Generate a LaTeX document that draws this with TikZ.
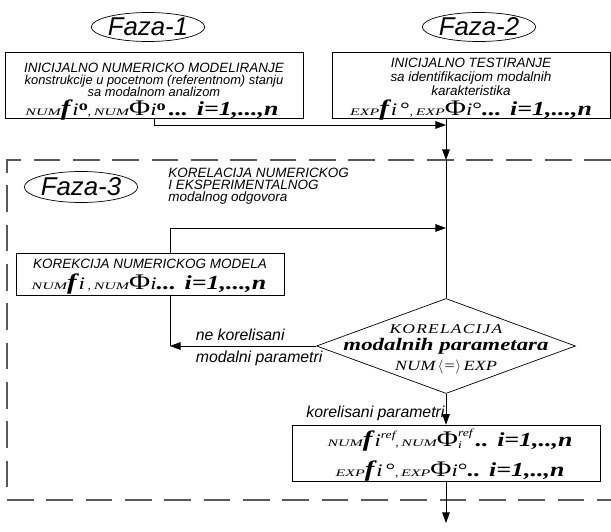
\documentclass[tikz,border=0pt]{standalone}
\usepackage{fontspec}
\setmainfont{Liberation Serif}
\newfontfamily\arialfont{Liberation Sans}
\newfontfamily\formfont[FakeStretch=1.3]{Liberation Serif}
\newfontfamily\tagfont[FakeStretch=1.6]{Liberation Serif}
\usetikzlibrary{arrows.meta, shapes.geometric}

% pieces of the modal formulas
\newcommand\tagtx[1]{{\tagfont\fontsize{8.5}{9}\selectfont\itshape #1}}
\newcommand\fsym{{\formfont\fontsize{19}{19}\selectfont\bfseries\itshape f}}
\newcommand\isym{{\formfont\fontsize{15}{15}\selectfont\itshape i}}
\newcommand\phisym{{\formfont\fontsize{19}{19}\selectfont Φ}}
\newcommand\rangetx[1]{{\formfont\fontsize{17}{17}\selectfont\bfseries\itshape #1}}
\newcommand\degb{\raisebox{0.8ex}{\formfont\fontsize{12}{12}\selectfont\bfseries o}}
\newcommand\degt{{\formfont\fontsize{16}{16}\selectfont °}}
\newcommand\refsup{{\formfont\fontsize{9}{9}\selectfont\itshape\raisebox{1.6ex}{ref}}}
\newcommand\refstack{{\formfont\fontsize{9}{9}\selectfont\itshape
  \rlap{\raisebox{2ex}{ref}}\raisebox{-0.6ex}{i}\phantom{re}}}

\begin{document}
\begin{tikzpicture}[x=0.03cm, y=-0.03cm, >={Triangle[length=9pt,width=6.5pt]}, line width=0.6pt,
  boxwh/.style 2 args={minimum width=#1*0.03cm, minimum height=#2*0.03cm},
  box/.style={draw, rectangle, inner sep=0pt},
  faza/.style={draw, ellipse, inner sep=0pt, font=\arialfont\itshape\fontsize{22}{22}\selectfont},
  txt/.style={font=\arialfont\itshape\fontsize{11.5}{12}\selectfont, inner sep=0pt, anchor=base},
  lbl/.style={txt, font=\arialfont\itshape\fontsize{13.5}{14}\selectfont},
  frm/.style={inner sep=0pt, anchor=base},
  okvir/.style={dash pattern=on 0.8cm off 0.38cm, black!65, line width=0.9pt}]

  \useasboundingbox (0,0) rectangle (611,532);

  % Faza-1 : numericki model
  \node[faza, boxwh={105}{29}] (faza1) at (148,27) {Faza-1};
  \node[box, boxwh={298}{66}] (modNum) at (154,85) {};
  \node[txt] (modNumA) at (154,72) {INICIJALNO NUMERICKO MODELIRANJE};
  \node[txt, font=\arialfont\itshape\fontsize{11}{11}\selectfont] (modNumB) at (154,84)
    {konstrukcije u pocetnom (referentnom) stanju};
  \node[txt, font=\arialfont\itshape\fontsize{11}{11}\selectfont] (modNumC) at (154,96)
    {sa modalnom analizom};
  \node[frm] (modNumF) at (152,115)
    {\tagtx{NUM}\fsym\,\isym\degb,\ \tagtx{NUM}\phisym\isym\degb\ \rangetx{... i=1,...,n}};

  % Faza-2 : testiranje
  \node[faza, boxwh={108}{29}] (faza2) at (479,27) {Faza-2};
  \node[box, boxwh={278}{66}] (modExp) at (471,85) {};
  \node[txt] (modExpA) at (471,67) {INICIJALNO TESTIRANJE};
  \node[txt] (modExpB) at (471,81) {sa identifikacijom modalnih};
  \node[txt] (modExpC) at (471,95) {karakteristika};
  \node[frm] (modExpF) at (471,115)
    {\tagtx{EXP}\fsym\,\isym\ \degt,\ \tagtx{EXP}\phisym\isym\degt\rangetx{... i=1,...,n}};

  % Faza-3 : korelacija
  \draw[okvir] (611,160) -| (7,500) -- (611,500);
  \node[faza, boxwh={102}{31}] (faza3) at (81,187) {Faza-3};
  \node[txt, anchor=base west] (korA) at (168,177) {KORELACIJA NUMERICKOG};
  \node[txt, anchor=base west] (korB) at (168,189) {I EKSPERIMENTALNOG};
  \node[txt, anchor=base west] (korC) at (168,201) {modalnog odgovora};

  \node[box, boxwh={268}{42}] (korekcija) at (150,274) {};
  \node[txt] (korekcijaA) at (150,268) {KOREKCIJA NUMERICKOG MODELA};
  \node[frm] (korekcijaF) at (149,289)
    {\tagtx{NUM}\fsym\,\isym\ ,\ \tagtx{NUM}\phisym\isym\rangetx{... i=1,...,n}};

  \node[draw, diamond, inner sep=0pt, boxwh={259}{95}] (kor) at (446,346) {};
  \node[frm] (korT1) at (kor.center) [yshift=0.39cm]
    {\formfont\fontsize{11.5}{11}\selectfont\itshape K\kern1pt O\kern1pt R\kern1pt E\kern1pt L\kern1pt A\kern1pt C\kern1pt I\kern1pt J\kern1pt A};
  \node[frm] (korT2) at (kor.center) [yshift=-0.12cm]
    {\formfont\fontsize{15}{15}\selectfont\bfseries\itshape modalnih parametara};
  \node[frm] (korT3) at (kor.center) [yshift=-0.72cm]
    {\formfont\fontsize{12}{12}\selectfont\itshape NUM\,$\langle$=$\rangle$\,EXP};

  \node[box, boxwh={308}{56}] (rezultat) at (446,453) {};
  \node[frm] (rezultatA) at (450,446)
    {\tagtx{NUM}\fsym\,\isym\refsup,\ \tagtx{NUM}\phisym\refstack\ \rangetx{.. i=1,..,n}};
  \node[frm] (rezultatB) at (450,476)
    {\tagtx{EXP}\fsym\,\isym\ \degt,\ \tagtx{EXP}\phisym\isym\degt\rangetx{.. i=1,..,n}};

  % tok
  \coordinate (spoj) at (446,125);
  \coordinate (ulaz) at (446,160);
  \coordinate (povrat) at (446,228);
  \coordinate (petlja) at (170,228);
  \coordinate (izlaz) at (446,523);

  \draw[->] (modNum.south) |- (spoj);
  \draw[->] (modExp.south -| spoj) -- (ulaz);
  \draw (ulaz) -- (kor.north);
  \draw[->] (korekcija.north -| petlja) -- (petlja) -- (povrat);
  \draw (korekcija.south -| petlja) -- (kor.west -| petlja);
  \draw[->] (kor.west) -- (kor.west -| petlja)
    node[lbl, pos=0.52, yshift=0.18cm] (neKor) {ne korelisani}
    node[lbl, pos=0.39, yshift=-0.48cm] (neKorB) {modalni parametri};
  \draw[->] (kor.south) -- (rezultat.north)
    node[lbl, pos=0.78, anchor=base east, xshift=-1pt] (jesteKor) {korelisani parametri};
  \draw[->] (rezultat.south) -- (izlaz);

\end{tikzpicture}
\end{document}
